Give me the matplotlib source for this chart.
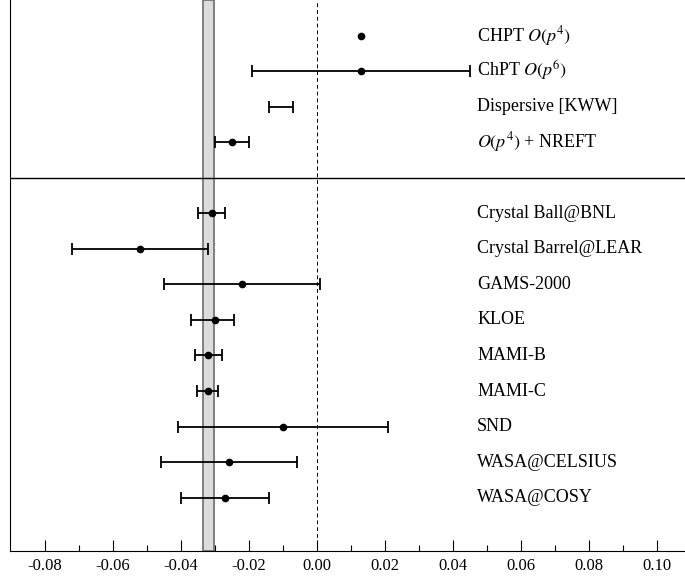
import matplotlib
matplotlib.use('Agg')
from matplotlib import pyplot as plt
from matplotlib.ticker import MultipleLocator, FixedLocator, FormatStrFormatter
import numpy as np

plt.rcParams['font.family'] = ['Liberation Serif', 'DejaVu Serif']
plt.rcParams['mathtext.fontset'] = 'stix'

# theory results (top block)
theory_labels = ['CHPT $O(p^4)$', 'ChPT $O(p^6)$', 'Dispersive [KWW]', '$O(p^4)$ + NREFT']
theory_vals = [0.013, 0.013, -0.0105, -0.025]
theory_lo = [0.0, 0.032, 0.0035, 0.005]
theory_hi = [0.0, 0.032, 0.0035, 0.005]
theory_dot = [True, True, False, True]
theory_pos = [1, 2, 3, 4]

# experimental results (bottom block)
exp_labels = ['Crystal Ball@BNL', 'Crystal Barrel@LEAR', 'GAMS-2000', 'KLOE',
              'MAMI-B', 'MAMI-C', 'SND', 'WASA@CELSIUS', 'WASA@COSY']
exp_vals = [-0.031, -0.052, -0.022, -0.0301, -0.032, -0.0322, -0.010, -0.026, -0.027]
exp_lo = [0.004, 0.020, 0.023, 0.0070, 0.004, 0.0030, 0.031, 0.020, 0.013]
exp_hi = [0.004, 0.020, 0.023, 0.0057, 0.004, 0.0030, 0.031, 0.020, 0.013]
exp_pos = [6, 7, 8, 9, 10, 11, 12, 13, 14]

# PDG average band
pdg_val = -0.0318
pdg_err = 0.0016

fig = plt.figure(figsize=(6.85, 5.79), dpi=100)
ax = fig.add_axes([10/685, 28/579, 1 - 10/685, 1 - 28/579])

ax.axvspan(pdg_val - pdg_err, pdg_val + pdg_err, facecolor='#dcdcdc',
           edgecolor='#6e6e6e', linewidth=1.2, zorder=1)
ax.axvline(0.0, color='black', linestyle=(0, (4, 3)), linewidth=0.7, zorder=1)
ax.axhline(5, color='black', linewidth=1.0, zorder=1)

ebkw = dict(color='black', elinewidth=1.3, capsize=4.3, capthick=1.3, zorder=3)

for v, lo, hi, dot, p in zip(theory_vals, theory_lo, theory_hi, theory_dot, theory_pos):
    if lo > 0:
        ax.errorbar([v], [p], xerr=[[lo], [hi]], fmt='none', **ebkw)
    if dot:
        ax.plot([v], [p], 'o', color='black', markersize=4.5, zorder=4)

ax.errorbar(exp_vals, exp_pos, xerr=[exp_lo, exp_hi], fmt='o', markersize=4.5,
            markerfacecolor='black', markeredgecolor='black', **ebkw)

for lab, p in zip(theory_labels + exp_labels, theory_pos + exp_pos):
    ax.text(0.0471, p, lab, fontsize=13, va='center', ha='left')

ax.set_xlim(-0.0903, 0.1082)
ax.set_ylim(15.5, 0.0)
ax.set_yticks([])
ax.xaxis.set_major_locator(MultipleLocator(0.02))
ax.xaxis.set_minor_locator(FixedLocator(np.arange(-0.07, 0.10, 0.02)))
ax.xaxis.set_major_formatter(FormatStrFormatter('%.2f'))
ax.tick_params(axis='x', which='major', direction='in', length=8, width=0.8,
               labelsize=12, pad=5)
ax.tick_params(axis='x', which='minor', direction='in', length=4, width=0.8)
ax.spines['top'].set_visible(False)
ax.spines['right'].set_visible(False)

fig.savefig('out.png', dpi=100)
